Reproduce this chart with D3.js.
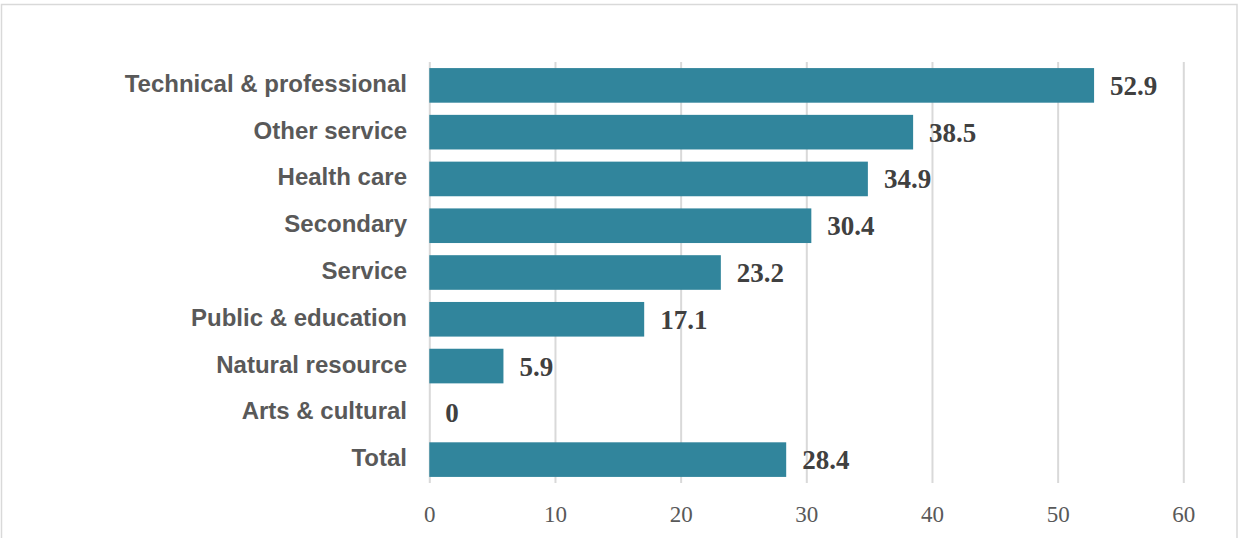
<!DOCTYPE html>
<html>
<head>
<meta charset="utf-8">
<script src="https://cdn.jsdelivr.net/npm/d3@7"></script>
<style>
  html, body { margin: 0; padding: 0; background: #fff; }
  svg { display: block; }
</style>
</head>
<body>
<svg id="chart" width="1239" height="538"></svg>
<script>
// Share of workers by occupation group (%)
const categories = [
  "Technical & professional",
  "Other service",
  "Health care",
  "Secondary",
  "Service",
  "Public & education",
  "Natural resource",
  "Arts & cultural",
  "Total"
];
const values = [52.9, 38.5, 34.9, 30.4, 23.2, 17.1, 5.9, 0, 28.4];
const tickValues = [0, 10, 20, 30, 40, 50, 60];

const svg = d3.select("#chart");
const W = 1239, H = 538;

// Outer frame of the chart area
svg.append("rect")
  .attr("x", 1.5).attr("y", 4.5)
  .attr("width", W - 3.5).attr("height", H + 10)
  .attr("fill", "#fff")
  .attr("stroke", "#d9d9d9")
  .attr("stroke-width", 1.5);

const plot = { left: 429.3, right: 1183.3, top: 62, bottom: 483 };

const x = d3.scaleLinear().domain([0, 60]).range([plot.left, plot.right]);
const y = d3.scaleBand().domain(categories).range([plot.top, plot.bottom]).paddingInner(0.26).paddingOuter(0.13);

// Vertical gridlines
const xAxis = d3.axisBottom(x).tickValues(tickValues).tickSize(-(plot.bottom - plot.top)).tickPadding(0);
const gx = svg.append("g")
  .attr("transform", `translate(0,${plot.bottom})`)
  .call(xAxis);
gx.select(".domain").remove();
gx.selectAll(".tick line").attr("stroke", "#d9d9d9").attr("stroke-width", 2);
gx.selectAll(".tick text")
  .attr("y", 39)
  .attr("dy", 0)
  .attr("fill", "#595959")
  .style("font-family", "'Liberation Serif', 'DejaVu Serif', serif")
  .style("font-size", "23px");

// Bars
svg.append("g").selectAll("rect")
  .data(values)
  .join("rect")
  .attr("x", x(0))
  .attr("y", (d, i) => y(categories[i]))
  .attr("width", d => x(d) - x(0))
  .attr("height", y.bandwidth())
  .attr("fill", "#31859c");

// Value labels
svg.append("g").selectAll("text")
  .data(values)
  .join("text")
  .attr("x", d => x(d) + 16)
  .attr("y", (d, i) => y(categories[i]) + y.bandwidth() / 2 + 9.5)
  .attr("fill", "#404040")
  .style("font-family", "'Liberation Serif', 'DejaVu Serif', serif")
  .style("font-weight", "bold")
  .style("font-size", "27px")
  .text(d => d);

// Category labels
svg.append("g").selectAll("text")
  .data(categories)
  .join("text")
  .attr("x", 407)
  .attr("y", d => y(d) + y.bandwidth() / 2 + 6.5)
  .attr("text-anchor", "end")
  .attr("fill", "#595959")
  .style("font-family", "'Liberation Sans', Arial, sans-serif")
  .style("font-weight", "bold")
  .style("font-size", "24px")
  .text(d => d);
</script>
</body>
</html>
